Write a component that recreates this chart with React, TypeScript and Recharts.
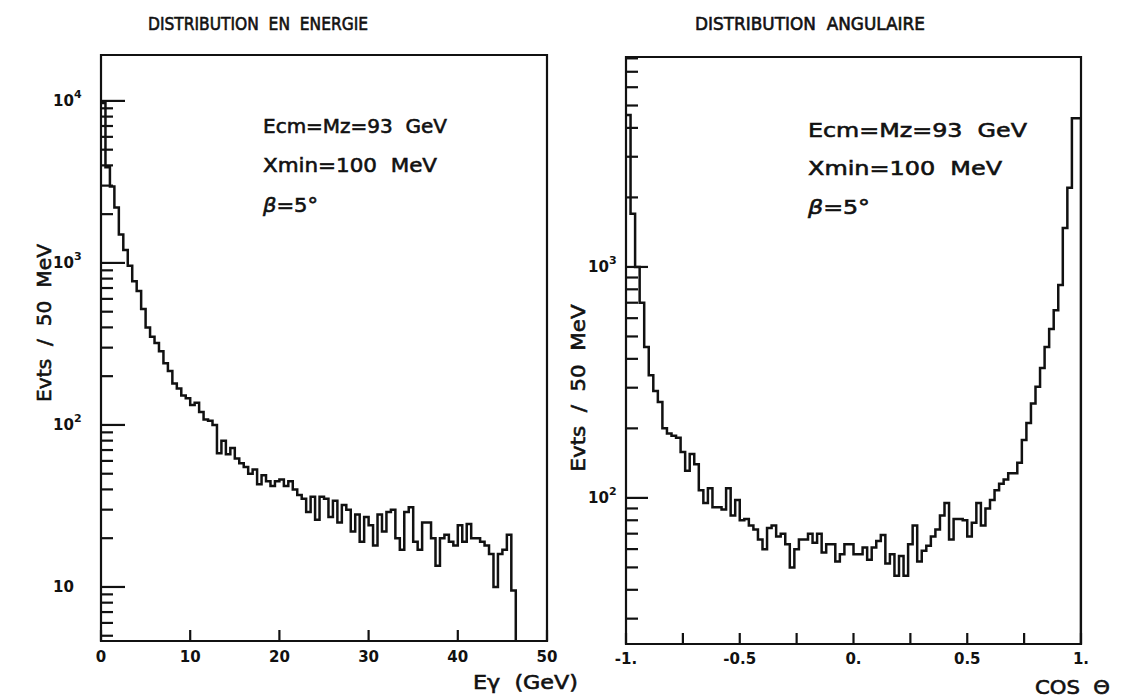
import React from 'react';
import { LineChart, Line, XAxis, YAxis, ReferenceArea } from 'recharts';

// photon energy spectrum, 0.5 GeV bins starting at 0
const ENERGY_BIN = 0.5;
const ENERGY_COUNTS = [
  9700, 3900, 2960, 2200, 1500, 1200, 960, 770, 670, 520,
  400, 350, 320, 285, 240, 215, 180, 168, 152, 146,
  133, 137, 120, 108, 106, 100, 67, 80, 66, 72,
  62, 58, 55, 50, 53, 43, 49, 45, 42, 45,
  46, 42, 45, 40, 37, 35, 29, 36, 26, 36,
  35, 27, 34, 25, 32, 30, 22, 28, 19, 27,
  24, 18, 28, 22, 29, 30, 20, 17, 29, 31,
  19, 17, 25, 25, 20, 13.5, 20, 21, 19, 18,
  24, 19, 24.5, 20, 20, 19, 18, 16, 10, 16,
  17, 21, 9.5,
];
const ENERGY_X_TICKS = [0, 10, 20, 30, 40, 50];
const ENERGY_Y_TICKS = [
  5, 6, 7, 8, 9, 10, 20, 30, 40, 50, 60, 70, 80, 90, 100,
  200, 300, 400, 500, 600, 700, 800, 900, 1000,
  2000, 3000, 4000, 5000, 6000, 7000, 8000, 9000, 10000,
];
const ENERGY_Y_DOMAIN = [4.64, 19200];

// angular distribution, 0.02 bins in cos theta from -1 to 1
const ANGLE_BIN = 0.02;
const ANGLE_COUNTS = [
  4550, 1700, 1000, 700, 450, 340, 290, 260, 200, 190,
  186, 182, 158, 131, 155, 140, 108, 95, 110, 91,
  91, 89, 110, 84, 98, 80, 81, 76, 73, 66,
  60, 74, 76, 68, 70, 63, 50, 60, 66, 66,
  70, 64, 70, 58, 63, 63, 53, 57, 63, 63,
  57, 57, 61, 54, 61, 65, 69, 52, 57, 46,
  56, 46, 63, 76, 53, 59, 62, 68, 73, 84,
  95, 66, 81, 81, 80, 68, 78, 95, 76, 90,
  98, 108, 115, 120, 128, 128, 142, 178, 211, 256,
  303, 365, 450, 539, 650, 836, 1475, 2200, 4400, 4400,
];
const ANGLE_X_TICKS = [-1, -0.75, -0.5, -0.25, 0, 0.25, 0.5, 0.75, 1];
const ANGLE_X_LABELS: Record<string, string> = { '-1': '-1.', '-0.5': '-0.5', '0': '0.', '0.5': '0.5', '1': '1.' };
const ANGLE_Y_TICKS = [
  30, 40, 50, 60, 70, 80, 90, 100,
  200, 300, 400, 500, 600, 700, 800, 900, 1000,
  2000, 3000, 4000, 5000, 6000, 7000, 8000,
];
const ANGLE_Y_DOMAIN = [23.3, 8110];

const INK = '#111';
const FONT = '"DejaVu Sans", Verdana, sans-serif';

// step histogram points: left edge of each bin, closing edge, then drop to the floor
function histPoints(start: number, width: number, counts: number[], floor: number) {
  const pts = counts.map((v, i) => ({ x: +(start + i * width).toFixed(4), v }));
  const end = +(start + counts.length * width).toFixed(4);
  pts.push({ x: end, v: counts[counts.length - 1] });
  pts.push({ x: end, v: floor });
  return pts;
}

const energyData = histPoints(0, ENERGY_BIN, ENERGY_COUNTS, ENERGY_Y_DOMAIN[0]);
const angleData = histPoints(-1, ANGLE_BIN, ANGLE_COUNTS, ANGLE_Y_DOMAIN[0]);

function yTick(majorLen: number, minorLen: number, labelDx: number) {
  return (props: any) => {
    const { x, y, payload } = props;
    const lg = Math.log10(payload.value);
    const exp = Math.round(lg);
    const major = Math.abs(lg - exp) < 1e-6;
    return (
      <g>
        <line x1={x} x2={x + (major ? majorLen : minorLen)} y1={y} y2={y} stroke={INK} strokeWidth={2.2} />
        {major && (
          <text x={x + labelDx} y={y + 5} fontFamily={FONT} fontSize={15} fontWeight="bold" fill={INK}>
            10{exp > 1 && <tspan dy={-8} fontSize={11}>{exp}</tspan>}
          </text>
        )}
      </g>
    );
  };
}

function xTick(len: number, labelDy: number, fmt: (v: number) => string | undefined) {
  return (props: any) => {
    const { x, y, payload } = props;
    const label = fmt(payload.value);
    return (
      <g>
        <line x1={x} x2={x} y1={y} y2={y - len} stroke={INK} strokeWidth={2.2} />
        {label && (
          <text x={x} y={y + labelDy} textAnchor="middle" fontFamily={FONT} fontSize={15} fontWeight="bold" fill={INK}>
            {label}
          </text>
        )}
      </g>
    );
  };
}

const txt = { fontFamily: FONT, fill: INK, stroke: INK, strokeWidth: 0.6, style: { whiteSpace: 'pre' as const } };

export default function App() {
  return (
    <div style={{ position: 'absolute', left: 0, top: 0, width: 1124, height: 697, background: '#fff' }}>
      <div style={{ position: 'absolute', left: 0, top: 0 }}>
        <LineChart width={560} height={697} data={energyData} margin={{ top: 55, right: 13, bottom: 55, left: 100 }}>
          <XAxis
            dataKey="x"
            type="number"
            domain={[0, 50]}
            ticks={ENERGY_X_TICKS}
            interval={0}
            allowDataOverflow
            height={1}
            tickSize={0}
            tickMargin={0}
            axisLine={false}
            tickLine={false}
            tick={xTick(11, 21, (v) => String(v))}
          />
          <YAxis
            type="number"
            scale="log"
            domain={ENERGY_Y_DOMAIN}
            ticks={ENERGY_Y_TICKS}
            interval={0}
            allowDataOverflow
            width={1}
            tickSize={0}
            tickMargin={0}
            axisLine={false}
            tickLine={false}
            tick={yTick(24, 12, -48)}
          />
          <ReferenceArea x1={0} x2={50} y1={ENERGY_Y_DOMAIN[0]} y2={ENERGY_Y_DOMAIN[1]} fill="none" stroke={INK} strokeWidth={2.2} />
          <Line type="stepAfter" dataKey="v" stroke={INK} strokeWidth={2.5} dot={false} isAnimationActive={false} />
        </LineChart>
      </div>
      <div style={{ position: 'absolute', left: 560, top: 0 }}>
        <LineChart width={564} height={697} data={angleData} margin={{ top: 57, right: 43, bottom: 52, left: 65 }}>
          <XAxis
            dataKey="x"
            type="number"
            domain={[-1, 1]}
            ticks={ANGLE_X_TICKS}
            interval={0}
            allowDataOverflow
            height={1}
            tickSize={0}
            tickMargin={0}
            axisLine={false}
            tickLine={false}
            tick={xTick(11, 20, (v) => ANGLE_X_LABELS[String(v)])}
          />
          <YAxis
            type="number"
            scale="log"
            domain={ANGLE_Y_DOMAIN}
            ticks={ANGLE_Y_TICKS}
            interval={0}
            allowDataOverflow
            width={1}
            tickSize={0}
            tickMargin={0}
            axisLine={false}
            tickLine={false}
            tick={yTick(22, 12, -38)}
          />
          <ReferenceArea x1={-1} x2={1} y1={ANGLE_Y_DOMAIN[0]} y2={ANGLE_Y_DOMAIN[1]} fill="none" stroke={INK} strokeWidth={2.2} />
          <Line type="stepAfter" dataKey="v" stroke={INK} strokeWidth={2.5} dot={false} isAnimationActive={false} />
        </LineChart>
      </div>
      <svg width={1124} height={697} style={{ position: 'absolute', left: 0, top: 0, pointerEvents: 'none' }}>
        <text {...txt} x={148} y={30} fontSize={17} textLength={220} lengthAdjust="spacingAndGlyphs">DISTRIBUTION  EN  ENERGIE</text>
        <text {...txt} x={695} y={30} fontSize={17} textLength={230} lengthAdjust="spacingAndGlyphs">DISTRIBUTION  ANGULAIRE</text>

        <text {...txt} x={263} y={133} fontSize={20} textLength={184} lengthAdjust="spacingAndGlyphs">Ecm=Mz=93  GeV</text>
        <text {...txt} x={263} y={172} fontSize={20} textLength={174} lengthAdjust="spacingAndGlyphs">Xmin=100  MeV</text>
        <text {...txt} x={263} y={212} fontSize={20} textLength={55} lengthAdjust="spacingAndGlyphs">
          <tspan fontStyle="italic">β</tspan>=5°
        </text>

        <text {...txt} x={808} y={137} fontSize={20} textLength={219} lengthAdjust="spacingAndGlyphs">Ecm=Mz=93  GeV</text>
        <text {...txt} x={808} y={175} fontSize={20} textLength={194} lengthAdjust="spacingAndGlyphs">Xmin=100  MeV</text>
        <text {...txt} x={808} y={214} fontSize={20} textLength={62} lengthAdjust="spacingAndGlyphs">
          <tspan fontStyle="italic">β</tspan>=5°
        </text>

        <text {...txt} x={51} y={323} fontSize={20} textAnchor="middle" transform="rotate(-90 51 323)" textLength={158} lengthAdjust="spacingAndGlyphs">Evts  /  50  MeV</text>
        <text {...txt} x={585} y={388} fontSize={20} textAnchor="middle" transform="rotate(-90 585 388)" textLength={167} lengthAdjust="spacingAndGlyphs">Evts  /  50  MeV</text>

        <text {...txt} x={473} y={689} fontSize={20} textLength={105} lengthAdjust="spacingAndGlyphs">Eγ  (GeV)</text>
        <text {...txt} x={1035} y={694} fontSize={19} textLength={75} lengthAdjust="spacingAndGlyphs">COS  Θ</text>
      </svg>
    </div>
  );
}
